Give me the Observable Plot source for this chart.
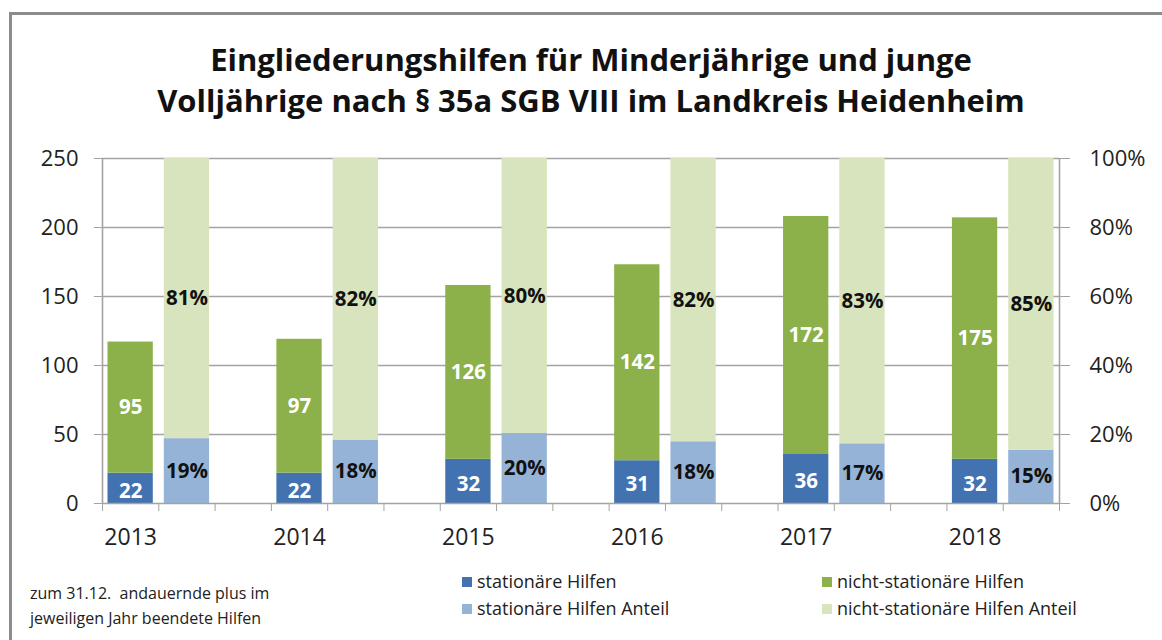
<!DOCTYPE html>
<html><head><meta charset="utf-8">
<script src="https://cdn.jsdelivr.net/npm/d3@7"></script>
<script src="https://cdn.jsdelivr.net/npm/@observablehq/plot@0.6"></script>
<style>
body{margin:0;background:#fff;font-family:"Open Sans",sans-serif;color:#222;}
#wrap{position:relative;width:1162px;height:640px;overflow:hidden;background:#fff;}
#frame{position:absolute;left:9px;top:12px;width:1200px;height:700px;border-left:3px solid #8c8c8c;border-top:3px solid #8c8c8c;}
#title{position:absolute;top:39px;left:10px;width:1162px;text-align:center;font-weight:700;font-size:31px;line-height:41px;color:#111;}
#chart{position:absolute;top:140px;left:0;}
.leg{position:absolute;font-size:18px;line-height:24px;white-space:nowrap;color:#222;}
.leg i{display:inline-block;width:10px;height:10px;margin-right:5px;vertical-align:1px;}
#note{position:absolute;left:30px;top:581px;font-size:16px;line-height:25px;color:#222;}
</style></head>
<body><div id="wrap">
<div id="frame"></div>
<div id="title">Eingliederungshilfen für Minderjährige und junge<br>Volljährige nach § 35a SGB VIII im Landkreis Heidenheim</div>
<div id="chart"></div>
<div id="legend"></div>
<div id="note">zum 31.12.&nbsp; andauernde plus im<br>jeweiligen Jahr beendete Hilfen</div>
</div>
<script>
const years = [2013, 2014, 2015, 2016, 2017, 2018];
const stationaer = [22, 22, 32, 31, 36, 32];
const nichtStationaer = [95, 97, 126, 142, 172, 175];
const anteilStationaer = [18.8, 18.4, 20.3, 17.9, 17.3, 15.4];
const anteilNicht = [81.2, 81.6, 79.7, 82.1, 82.7, 84.6];
const leftTicks = [0, 50, 100, 150, 200, 250];
const seriesNames = ["stationäre Hilfen", "nicht-stationäre Hilfen", "stationäre Hilfen Anteil", "nicht-stationäre Hilfen Anteil"];
const seriesColors = ["#4273b0", "#8cb14a", "#95b3d7", "#d7e4bd"];

const k = 2.5; // 100% maps to 250 on the shared y scale
const rects = [];
const labels = [];
years.forEach((yr, i) => {
  const s = stationaer[i], n = nichtStationaer[i];
  const a = anteilStationaer[i] * k, b = anteilNicht[i] * k;
  rects.push({x1: 3*i, x2: 3*i+1, y1: 0, y2: s, series: seriesNames[0]});
  rects.push({x1: 3*i, x2: 3*i+1, y1: s, y2: s+n, series: seriesNames[1]});
  rects.push({x1: 3*i+1, x2: 3*i+2, y1: 0, y2: a, series: seriesNames[2]});
  rects.push({x1: 3*i+1, x2: 3*i+2, y1: a, y2: a+b, series: seriesNames[3]});
  labels.push({x: 3*i+0.5, y: s/2 - 2, t: String(s), c: "#fff"});
  labels.push({x: 3*i+0.5, y: s + n/2, t: String(n), c: "#fff"});
  labels.push({x: 3*i+1.5, y: a/2, t: Math.round(anteilStationaer[i]) + "%", c: "#111"});
  labels.push({x: 3*i+1.5, y: a + b/2, t: Math.round(anteilNicht[i]) + "%", c: "#111"});
});

const plot = Plot.plot({
  width: 1162, height: 425,
  marginLeft: 102, marginRight: 103, marginTop: 18, marginBottom: 62,
  style: {fontFamily: "Open Sans, sans-serif", background: "transparent", overflow: "visible"},
  x: {type: "linear", domain: [0, 17], axis: null},
  y: {domain: [0, 250], axis: null},
  color: {domain: seriesNames, range: seriesColors},
  marks: [
    Plot.ruleY(leftTicks.slice(1), {stroke: "#a3a3a3", strokeWidth: 1.6}),
    Plot.rect(rects, {x1: "x1", x2: "x2", y1: "y1", y2: "y2", fill: "series", insetLeft: 5.5, insetRight: 5.5}),
    Plot.text(labels, {x: "x", y: "y", text: "t", fill: "c", fontSize: 20.5, fontWeight: "bold"}),
    Plot.ruleY([0], {stroke: "#a3a3a3", strokeWidth: 1.6}),
    Plot.ruleX([0, 17], {stroke: "#a3a3a3", strokeWidth: 1.6}),
    Plot.axisY({ticks: leftTicks, tickSize: 8, tickPadding: 16, fontSize: 22, stroke: "#a3a3a3", fill: "#222", label: null}),
    Plot.axisY({anchor: "right", ticks: leftTicks, tickFormat: d => (d / k) + "%", tickSize: 10, tickPadding: 20, fontSize: 22, stroke: "#a3a3a3", fill: "#222", label: null}),
    Plot.axisX({ticks: d3.range(0, 18), tickFormat: () => "", tickSize: 8, stroke: "#a3a3a3", label: null}),
    Plot.axisX({ticks: years.map((y, i) => 3*i + 0.5), tickFormat: d => String(years[Math.round((d - 0.5) / 3)]), tickSize: 0, tickPadding: 25, fontSize: 23, fill: "#222", label: null})
  ]
});
document.getElementById("chart").appendChild(plot);

const legPos = [[462, 569], [822, 569], [462, 596], [822, 596]];
const legend = document.getElementById("legend");
seriesNames.forEach((name, i) => {
  const d = document.createElement("div");
  d.className = "leg";
  d.style.left = legPos[i][0] + "px";
  d.style.top = legPos[i][1] + "px";
  d.innerHTML = `<i style="background:${seriesColors[i]}"></i>${name}`;
  legend.appendChild(d);
});
</script>
</body></html>
